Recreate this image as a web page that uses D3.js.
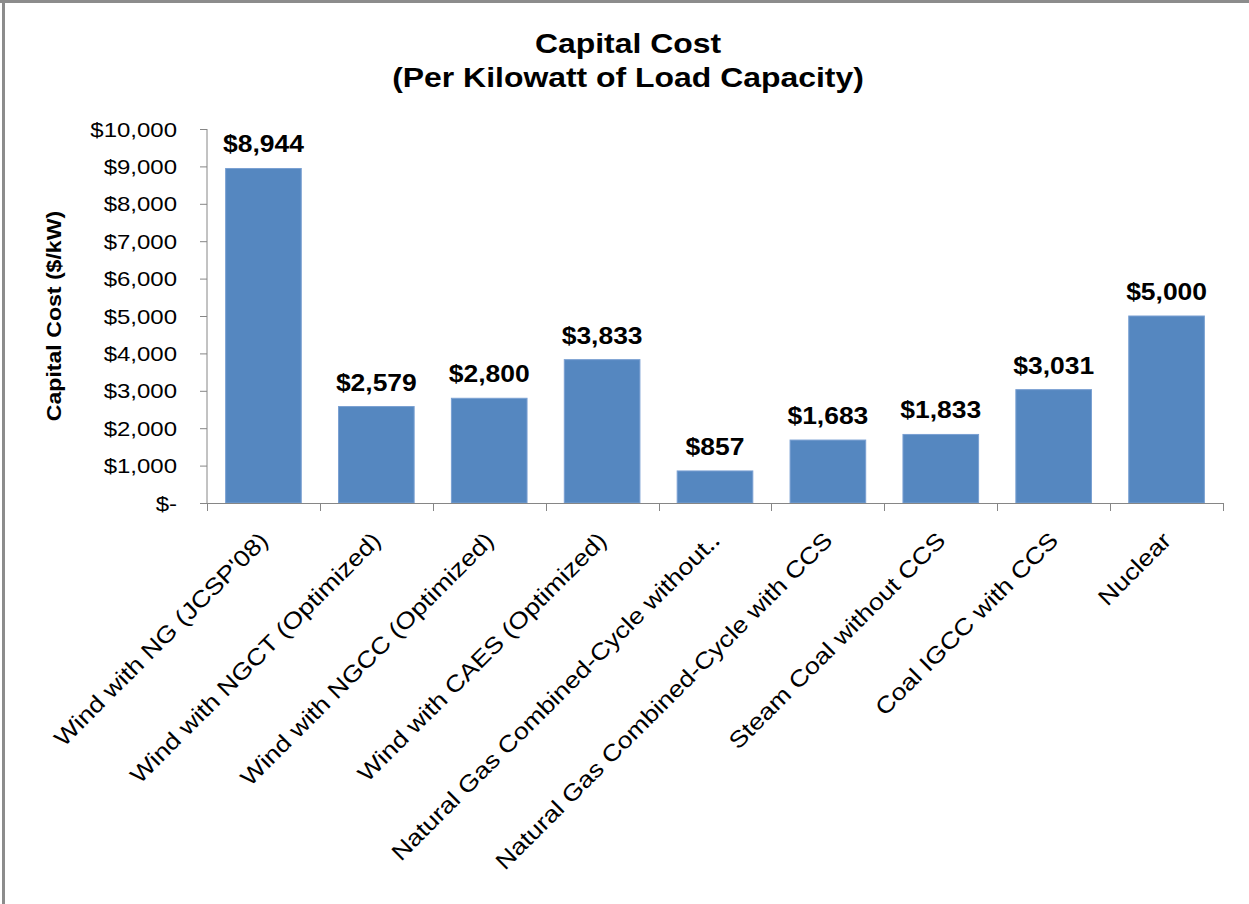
<!DOCTYPE html>
<html>
<head>
<meta charset="utf-8">
<script src="https://cdn.jsdelivr.net/npm/d3@7"></script>
<style>
  html, body { margin: 0; padding: 0; background: #fff; }
  svg { display: block; font-family: "Liberation Sans", Arial, sans-serif; }
</style>
</head>
<body>
<svg id="chart" width="1249" height="904"></svg>
<script>
// Capital cost per kW of load capacity, by generation option
const categories = [
  "Wind with NG (JCSP'08)",
  "Wind with NGCT (Optimized)",
  "Wind with NGCC (Optimized)",
  "Wind with CAES (Optimized)",
  "Natural Gas Combined-Cycle without\u2025",
  "Natural Gas Combined-Cycle with CCS",
  "Steam Coal without CCS",
  "Coal IGCC with CCS",
  "Nuclear"
];
const capitalCost = [8944, 2579, 2800, 3833, 857, 1683, 1833, 3031, 5000];
const yTickValues = [0, 1000, 2000, 3000, 4000, 5000, 6000, 7000, 8000, 9000, 10000];
const yTickLabels = ["$-", "$1,000", "$2,000", "$3,000", "$4,000", "$5,000",
                     "$6,000", "$7,000", "$8,000", "$9,000", "$10,000"];
const titleLines = ["Capital Cost", "(Per Kilowatt of Load Capacity)"];
const yAxisTitle = "Capital Cost ($/kW)";

const svg = d3.select("#chart");
const axisColor = "#868686";
const barColor = "#5587c0";

const plot = { left: 207, right: 1223, top: 129, bottom: 503 };

const x = d3.scaleBand()
  .domain(categories)
  .range([plot.left, plot.right])
  .paddingInner(0.33)
  .paddingOuter(0.165);

const y = d3.scaleLinear()
  .domain([0, 10000])
  .range([plot.bottom, plot.top]);

const fmt = d3.format("$,");

// Outer frame (top and left edges)
svg.append("line").attr("x1", 0).attr("x2", 1249).attr("y1", 1.5).attr("y2", 1.5)
  .attr("stroke", "#8c8c8c").attr("stroke-width", 3);
svg.append("line").attr("x1", 3.5).attr("x2", 3.5).attr("y1", 0).attr("y2", 904)
  .attr("stroke", "#8c8c8c").attr("stroke-width", 3);

// Title
svg.selectAll("text.title")
  .data(titleLines)
  .join("text")
  .attr("class", "title")
  .attr("transform", (d, i) => `translate(628,${53 + i * 34}) scale(1.14,1)`)
  .attr("text-anchor", "middle")
  .attr("font-size", 28)
  .attr("font-weight", "bold")
  .attr("fill", "#000")
  .text(d => d);

// Y axis
const yAxis = svg.append("g")
  .attr("transform", `translate(${plot.left},0)`)
  .call(d3.axisLeft(y).tickValues(yTickValues).tickSize(7).tickPadding(0)
    .tickFormat((d, i) => yTickLabels[i]));
yAxis.select(".domain").attr("stroke", axisColor).attr("d", `M0,${plot.top}V${plot.bottom}`);
yAxis.selectAll(".tick line").attr("stroke", axisColor);
yAxis.selectAll(".tick text")
  .attr("x", null).attr("dy", null)
  .attr("transform", "translate(-30,7) scale(1.2,1)")
  .attr("font-size", 20)
  .attr("font-family", "Liberation Sans, Arial, sans-serif")
  .attr("fill", "#000");

// Y axis title
svg.append("text")
  .attr("transform", "translate(61,316) rotate(-90) scale(1.1,1)")
  .attr("text-anchor", "middle")
  .attr("font-size", 21)
  .attr("font-weight", "bold")
  .attr("fill", "#000")
  .text(yAxisTitle);

// Bars
svg.append("g")
  .selectAll("rect")
  .data(categories)
  .join("rect")
  .attr("x", d => x(d))
  .attr("width", x.bandwidth())
  .attr("y", (d, i) => y(capitalCost[i]))
  .attr("height", (d, i) => y(0) - y(capitalCost[i]))
  .attr("fill", barColor)
  .attr("stroke", "#7aa0d2")
  .attr("stroke-width", 1);

// X axis line with ticks at category boundaries
const halfGap = x.step() * x.paddingInner() / 2;
const boundaries = categories.map(c => x(c) - halfGap).concat([plot.right]);
const xAxis = svg.append("g");
xAxis.append("line")
  .attr("x1", plot.left).attr("x2", plot.right)
  .attr("y1", plot.bottom + 0.5).attr("y2", plot.bottom + 0.5)
  .attr("stroke", axisColor);
xAxis.selectAll("line.tick")
  .data(boundaries)
  .join("line")
  .attr("class", "tick")
  .attr("x1", d => Math.round(d) + 0.5).attr("x2", d => Math.round(d) + 0.5)
  .attr("y1", plot.bottom).attr("y2", plot.bottom + 8)
  .attr("stroke", axisColor);

// Category labels, rotated
svg.append("g")
  .selectAll("text")
  .data(categories)
  .join("text")
  .attr("transform", d => `translate(${x(d) + x.bandwidth() / 2 + 6},542) rotate(-45) scale(1.16,1)`)
  .attr("text-anchor", "end")
  .attr("font-size", 23)
  .attr("fill", "#000")
  .text(d => d);

// Value labels
svg.append("g")
  .selectAll("text")
  .data(categories)
  .join("text")
  .attr("transform", (d, i) => `translate(${x(d) + x.bandwidth() / 2},${y(capitalCost[i]) - 16}) scale(1.15,1)`)
  .attr("text-anchor", "middle")
  .attr("font-size", 23)
  .attr("font-weight", "bold")
  .attr("fill", "#000")
  .text((d, i) => fmt(capitalCost[i]));
</script>
</body>
</html>
